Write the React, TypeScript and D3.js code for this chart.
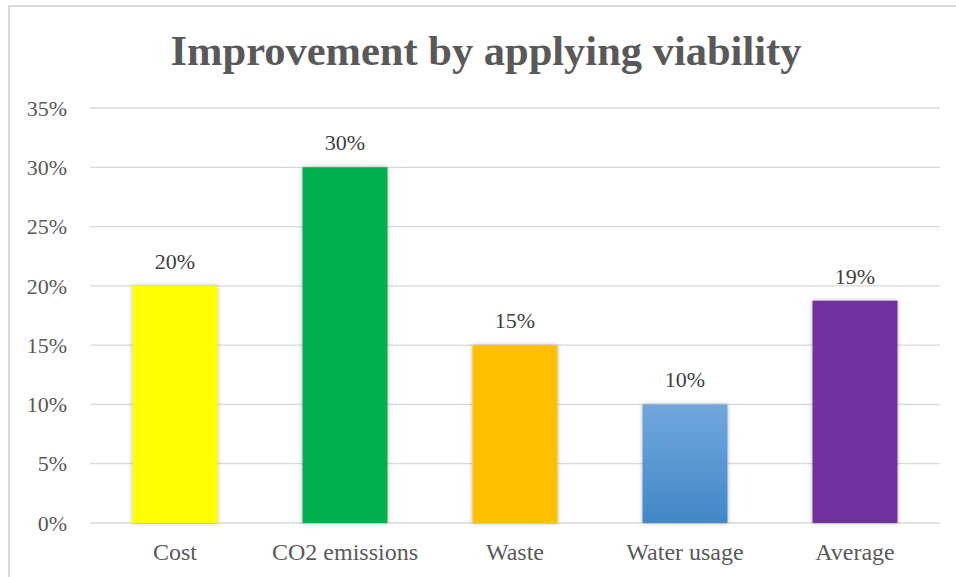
import React, { useEffect } from 'react';
import * as d3 from 'd3';

const categories = ['Cost', 'CO2 emissions', 'Waste', 'Water usage', 'Average'];
const values = [0.2, 0.3, 0.15, 0.1, 0.1875];
const yTicks = [0, 0.05, 0.1, 0.15, 0.2, 0.25, 0.3, 0.35];

const W = 956;
const H = 577;
const margin = { top: 108, right: 16, bottom: 54, left: 90 };
const FONT = 'Liberation Serif, Times New Roman, Tinos, DejaVu Serif, serif';

export default function App() {
  useEffect(() => {
    document.body.style.margin = '0';
  }, []);

  const innerW = W - margin.left - margin.right;
  const innerH = H - margin.top - margin.bottom;

  const x = d3.scaleBand<string>().domain(categories).range([0, innerW]).paddingInner(0.5).paddingOuter(0.25);
  const y = d3.scaleLinear().domain([0, 0.35]).range([innerH, 0]);
  const fmt = d3.format('.0%');

  const fills = ['#FFFF00', '#00B050', '#FFC000', 'url(#waterGrad)', '#7030A0'];

  return (
    <svg width={W} height={H} style={{ display: 'block', background: '#fff', fontFamily: FONT }}>
      <defs>
        <linearGradient id="waterGrad" x1="0" y1="0" x2="0" y2="1">
          <stop offset="0%" stopColor="#71A7DC" />
          <stop offset="100%" stopColor="#4187C8" />
        </linearGradient>
        <filter id="shadow" x="-20%" y="-10%" width="140%" height="120%">
          <feDropShadow dx="0" dy="0" stdDeviation="2" floodColor="#000" floodOpacity="0.3" />
        </filter>
      </defs>
      <rect x={9} y={6} width={W + 10} height={H + 10} fill="none" stroke="#d9d9d9" strokeWidth={2} />
      <text x={486} y={65} textAnchor="middle" fontWeight="bold" fontSize={42.5} fill="#595959">
        Improvement by applying viability
      </text>
      <g transform={`translate(${margin.left},${margin.top})`}>
        {yTicks.map((t) => (
          <g key={t}>
            <line x1={0} x2={innerW} y1={y(t)} y2={y(t)} stroke="#d9d9d9" strokeWidth={1.3} />
            <text x={-23} y={y(t)} dy="0.35em" textAnchor="end" fontSize={22} fill="#595959">
              {fmt(t)}
            </text>
          </g>
        ))}
        {categories.map((c, i) => (
          <g key={c}>
            <rect
              x={x(c)}
              y={y(values[i])}
              width={x.bandwidth()}
              height={innerH - y(values[i])}
              fill={fills[i]}
              filter="url(#shadow)"
            />
            <text
              x={(x(c) as number) + x.bandwidth() / 2}
              y={y(values[i]) - 17}
              textAnchor="middle"
              fontSize={22}
              fill="#404040"
            >
              {fmt(values[i])}
            </text>
            <text
              x={(x(c) as number) + x.bandwidth() / 2}
              y={innerH + 37}
              textAnchor="middle"
              fontSize={24}
              fill="#595959"
            >
              {c}
            </text>
          </g>
        ))}
      </g>
    </svg>
  );
}
